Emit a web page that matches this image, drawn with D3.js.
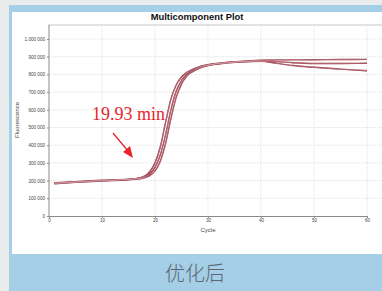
<!DOCTYPE html>
<html>
<head>
<meta charset="utf-8">
<script src="https://cdn.jsdelivr.net/npm/d3@7"></script>
<style>
  html, body { margin: 0; padding: 0; background: #eaebed; }
  svg { display: block; }
</style>
</head>
<body>
<div id="chart"></div>
<script>
// data
const cycles = [1, 5, 10, 15, 17, 18, 19, 20, 21, 22, 23, 24, 25, 26, 28, 30, 33, 36, 40, 43, 46, 50, 55, 60];
const wellA = [185000, 192000, 200000, 207000, 215000, 225000, 250000, 300000, 390000, 530000, 660000, 740000, 785000, 812000, 840000, 855000, 866000, 872000, 876000, 872000, 866000, 862000, 862000, 863000];
const wellB = [188000, 194000, 202000, 208000, 213000, 220000, 238000, 275000, 345000, 460000, 600000, 705000, 765000, 800000, 835000, 852000, 865000, 873000, 880000, 882000, 882000, 883000, 884000, 885000];
const wellC = [182000, 190000, 198000, 205000, 210000, 216000, 228000, 255000, 310000, 410000, 550000, 670000, 745000, 790000, 830000, 850000, 862000, 870000, 874000, 862000, 850000, 840000, 830000, 821000];
const xTicks = [0, 10, 20, 30, 40, 50, 60];
const yTicks = [0, 100000, 200000, 300000, 400000, 500000, 600000, 700000, 800000, 900000, 1000000];
const yTickLabels = ["0", "100 000", "200 000", "300 000", "400 000", "500 000", "600 000", "700 000", "800 000", "900 000", "1,000 000"];

const W = 382, H = 291;
const svg = d3.select("#chart").append("svg").attr("width", W).attr("height", H);

// frame: blue border + white panel + caption band
svg.append("rect").attr("x", 9).attr("y", 5).attr("width", W - 9).attr("height", H - 5).attr("fill", "#a4cfe6");
svg.append("rect").attr("x", 12).attr("y", 12).attr("width", W - 12).attr("height", 242).attr("fill", "#fff");
svg.append("text").attr("x", 195).attr("y", 281).attr("text-anchor", "middle")
  .attr("font-family", "'Noto Sans CJK SC', sans-serif").attr("font-size", 20)
  .attr("font-weight", 300).attr("fill", "#5f6670").text("优化后");

const x = d3.scaleLinear().domain([0, 60]).range([49, 367]);
const y = d3.scaleLinear().domain([0, 1000000]).range([216, 39]);

// title
svg.append("text").attr("x", 197).attr("y", 20).attr("text-anchor", "middle")
  .attr("font-family", "'Liberation Sans', Arial, sans-serif").attr("font-weight", "bold")
  .attr("font-size", 9.4).attr("fill", "#111").text("Multicomponent Plot");

// plot top border
svg.append("line").attr("x1", 48).attr("x2", W).attr("y1", 25).attr("y2", 25)
  .attr("stroke", "#c8c8c8").attr("stroke-width", 1.2);

// grid
const grid = svg.append("g").attr("stroke", "#d6d6d6").attr("stroke-width", 0.7).attr("stroke-dasharray", "1,1");
grid.selectAll("line.v").data(xTicks.slice(1)).join("line").attr("class", "v")
  .attr("x1", d => x(d)).attr("x2", d => x(d)).attr("y1", 25).attr("y2", 216);
grid.selectAll("line.h").data(yTicks.slice(1)).join("line").attr("class", "h")
  .attr("x1", 49).attr("x2", W).attr("y1", d => y(d)).attr("y2", d => y(d));

// axes
const xAxis = svg.append("g").attr("transform", "translate(0,216)")
  .call(d3.axisBottom(x).tickValues(xTicks).tickSize(2).tickPadding(1));
const yAxis = svg.append("g").attr("transform", "translate(49,0)")
  .call(d3.axisLeft(y).tickValues(yTicks).tickSize(2).tickPadding(2)
    .tickFormat((d, i) => yTickLabels[i]));
[xAxis, yAxis].forEach(a => {
  a.select(".domain").attr("stroke", "#8a8a8a");
  a.selectAll(".tick line").attr("stroke", "#8a8a8a");
  a.selectAll("text").attr("font-family", "'Liberation Sans', Arial, sans-serif")
    .attr("font-size", 4.6).attr("fill", "#444");
});
yAxis.select(".domain").attr("d", "M0,25V216");

svg.append("text").attr("x", 208).attr("y", 232).attr("text-anchor", "middle")
  .attr("font-family", "'Liberation Sans', Arial, sans-serif").attr("font-size", 6)
  .attr("fill", "#444").text("Cycle");
svg.append("text").attr("transform", "translate(19,120) rotate(-90)").attr("text-anchor", "middle")
  .attr("font-family", "'Liberation Sans', Arial, sans-serif").attr("font-size", 6)
  .attr("fill", "#444").text("Fluorescence");

// curves
const line = d3.line().x((d, i) => x(cycles[i])).y(d => y(d)).curve(d3.curveMonotoneX);
const wells = [wellA, wellB, wellC];
const curves = svg.append("g").attr("fill", "none");
curves.selectAll("path.outer").data(wells).join("path").attr("class", "outer")
  .attr("d", line).attr("stroke", "#8e2435").attr("stroke-width", 1.4);
curves.selectAll("path.inner").data(wells).join("path").attr("class", "inner")
  .attr("d", line).attr("stroke", "#ecd2d5").attr("stroke-width", 0.4);

// annotation
svg.append("text").attr("x", 92).attr("y", 120)
  .attr("font-family", "'Liberation Serif', 'Times New Roman', serif").attr("font-size", 18)
  .attr("fill", "#e8252c").text("19.93 min");
svg.append("line").attr("x1", 113).attr("y1", 133).attr("x2", 128).attr("y2", 151)
  .attr("stroke", "#e8252c").attr("stroke-width", 1.3);
svg.append("path").attr("d", "M133,158 L123,152 L130,146 Z").attr("fill", "#e8252c");
</script>
</body>
</html>
